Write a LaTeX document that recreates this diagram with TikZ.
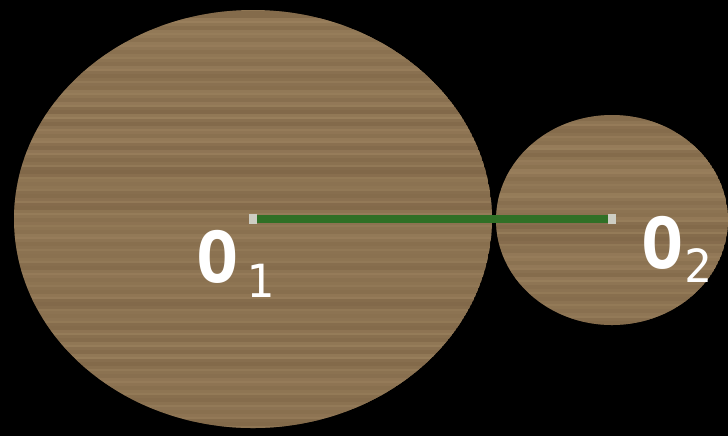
\documentclass[tikz,border=0pt]{standalone}
\usepackage{fontspec}
\setmonofont{DejaVu Sans Mono}
\usetikzlibrary{positioning}
\definecolor{woodbase}{RGB}{143,118,84}
\definecolor{wooddark}{RGB}{115,90,62}
\definecolor{woodlight}{RGB}{164,138,102}
\definecolor{seggreen}{RGB}{48,112,38}
\definecolor{tickgray}{RGB}{205,205,195}
\newcommand{\subfnt}{\mdseries\fontsize{13}{13}\selectfont}

\begin{document}
\begin{tikzpicture}[x=0.01cm, y=-0.01cm,
    wood/.style={fill=woodbase},
    grain/.style={draw=wooddark, line width=2.6pt},
    sheen/.style={draw=woodlight, line width=2pt},
    seg/.style={seggreen, line width=2.5pt},
    tck/.style={tickgray, line width=2pt},
    lbl/.style={text=white, inner sep=0pt, anchor=base west,
        font=\ttfamily\bfseries\fontsize{20}{20}\selectfont},
]

% ── Board ──
\fill[black] (0,0) rectangle (728,436);
\useasboundingbox (0,0) rectangle (728,436);

% ── Centres ──
\coordinate (c1) at (253,219);
\coordinate (c2) at (612,219);

% ── Wooden discs ──
\pgfmathsetseed{11}
\begin{scope}
  \clip (c1) ellipse [x radius=239, y radius=209];
  \fill[wood] (c1) ellipse [x radius=239, y radius=209];
  \foreach \yy in {16,28,...,430} {
    \pgfmathsetmacro\op{0.1+0.4*rnd}
    \draw[grain, opacity=\op] (0,\yy) -- (728,\yy);
    \pgfmathsetmacro\ol{0.1+0.4*rnd}
    \draw[sheen, opacity=\ol] (0,\yy+6) -- (728,\yy+6);
  }
\end{scope}
\begin{scope}
  \clip (612,220) ellipse [x radius=116, y radius=105];
  \fill[wood] (612,220) ellipse [x radius=116, y radius=105];
  \foreach \yy in {119,131,...,327} {
    \pgfmathsetmacro\op{0.1+0.4*rnd}
    \draw[grain, opacity=\op] (0,\yy) -- (728,\yy);
    \pgfmathsetmacro\ol{0.1+0.4*rnd}
    \draw[sheen, opacity=\ol] (0,\yy+6) -- (728,\yy+6);
  }
\end{scope}

% ── Segment O1O2 ──
\draw[seg] (c1) -- (c2);
\draw[tck] (c1) ++(0,-5) -- ++(0,10);
\draw[tck] (c2) ++(0,-5) -- ++(0,10);

% ── Labels ──
\node[lbl] (lblO1) at (196,282) {O\hspace{2pt}\raisebox{-4.5pt}{\subfnt 1}};
\node[lbl] (lblO2) at (641,268) {O\raisebox{-4pt}{\subfnt 2}};

\end{tikzpicture}
\end{document}
